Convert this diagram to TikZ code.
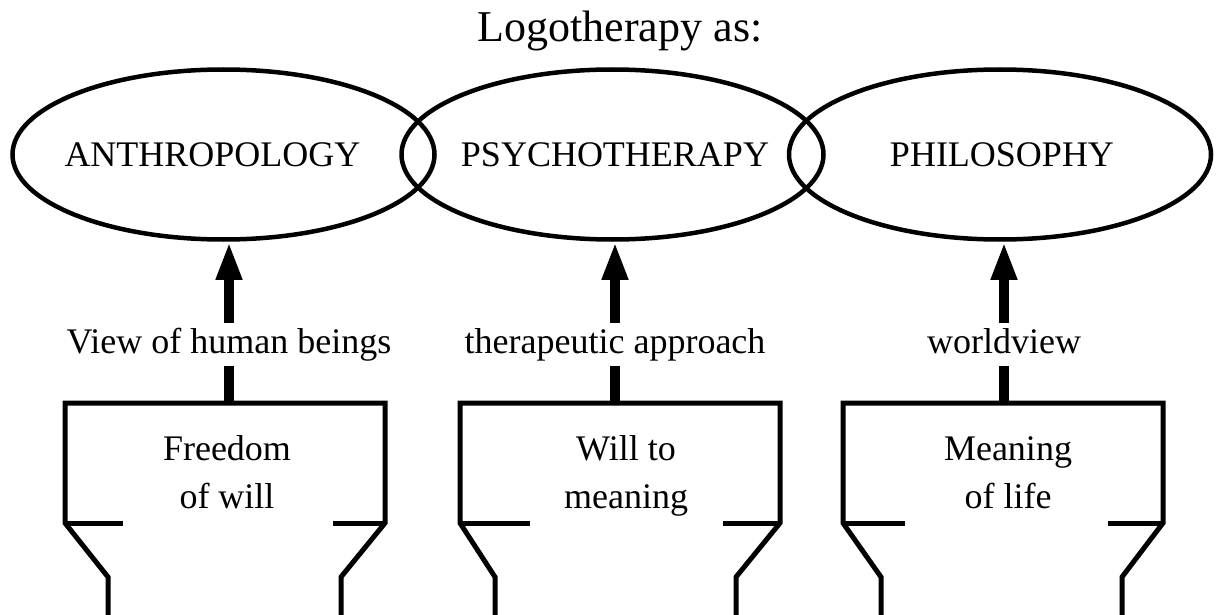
\documentclass[tikz,border=0pt]{standalone}
\usepackage{fontspec}
\setmainfont{Liberation Serif}
\usetikzlibrary{shapes.geometric,arrows.meta}
\tikzset{
  oval/.style={draw, ellipse, line width=4.5pt, minimum width=422pt, minimum height=170pt, inner sep=0pt},
  ovallabel/.style={anchor=base, inner sep=0pt, font=\fontsize{36}{43}\selectfont},
  titletext/.style={anchor=base, inner sep=0pt, font=\fontsize{44}{52}\selectfont},
  arr/.style={line width=10pt, -{Triangle[length=38pt,width=24pt]}},
  lbl/.style={fill=white, font=\fontsize{36}{43}\selectfont, text height=27pt, text depth=9pt, inner xsep=4pt, inner ysep=3.5pt, pos=0.36},
  pillar/.style={line width=5pt, line join=miter},
  boxtext/.style={align=center, inner sep=0pt, font=\fontsize{36}{48}\selectfont}
}
\begin{document}
\begin{tikzpicture}[x=1pt,y=-1pt]
\useasboundingbox (0,0) rectangle (1218,615);

% title
\node[titletext] (title) at (620,42) {Logotherapy as:};

% ellipses
\node[oval] (anth) at (223.5,154.5) {};
\node[oval] (psy) at (612.5,154.5) {};
\node[oval] (phil) at (1000,154.5) {};
\node[ovallabel] (anthl) at (212.5,167) {ANTHROPOLOGY};
\node[ovallabel] (psyl) at (615,167) {PSYCHOTHERAPY};
\node[ovallabel] (phill) at (1002,166) {PHILOSOPHY};

% pillar 1
\draw[pillar] (108,625) -- (108,577) -- (65,523) -- (65,403) -- (385,403) -- (385,523) -- (341,577) -- (341,625);
\draw[pillar] (65,523) -- (123,523);
\draw[pillar] (385,523) -- (333,523);
\coordinate (top1) at (229,403);
\node[boxtext] (t1) at (227,475) {Freedom\strut\\of will\strut};

% pillar 2
\draw[pillar] (495,625) -- (495,577) -- (460,523) -- (460,403) -- (780,403) -- (780,523) -- (736,577) -- (736,625);
\draw[pillar] (460,523) -- (530,523);
\draw[pillar] (780,523) -- (723,523);
\coordinate (top2) at (615,403);
\node[boxtext] (t2) at (626,475) {Will to\strut\\meaning\strut};

% pillar 3
\draw[pillar] (881,625) -- (881,577) -- (843,523) -- (843,403) -- (1163,403) -- (1163,523) -- (1122,577) -- (1122,625);
\draw[pillar] (843,523) -- (905,523);
\draw[pillar] (1163,523) -- (1108,523);
\coordinate (top3) at (1004,403);
\node[boxtext] (t3) at (1008,475) {Meaning\strut\\of life\strut};

% arrows
\draw[arr] (top1) -- node[lbl] (l1) {View of human beings} (top1 |- anth.south);
\draw[arr] (top2) -- node[lbl] (l2) {therapeutic approach} (top2 |- psy.south);
\draw[arr] (top3) -- node[lbl] (l3) {worldview} (top3 |- phil.south);
\end{tikzpicture}
\end{document}
